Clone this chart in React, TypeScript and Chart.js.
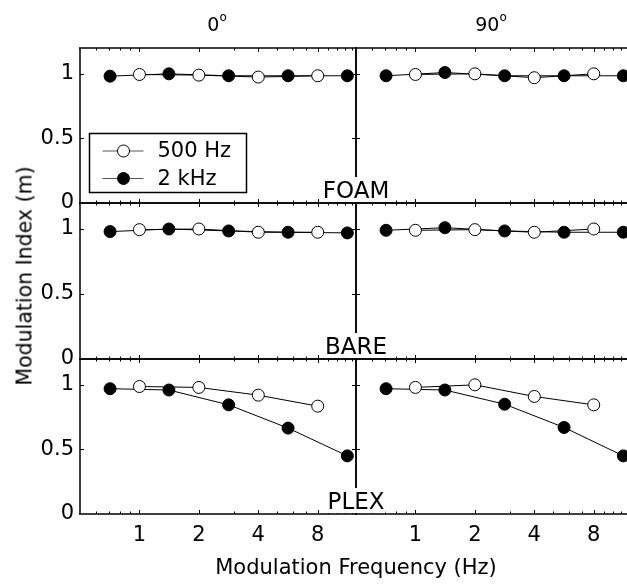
import React, { useEffect, useRef } from "react";
import { Chart, registerables } from "chart.js";

Chart.register(...registerables);

// ---- data ----
const freq500 = [1, 2, 4, 8];
const freq2k = [0.71, 1.41, 2.83, 5.66, 11.3];

const foam0_500 = [0.995, 0.99, 0.975, 0.985];
const foam0_2k = [0.982, 1.0, 0.985, 0.985, 0.985];
const foam90_500 = [0.995, 1.0, 0.97, 1.0];
const foam90_2k = [0.985, 1.01, 0.985, 0.985, 0.985];

const bare0_500 = [0.995, 1.0, 0.975, 0.975];
const bare0_2k = [0.98, 1.0, 0.985, 0.975, 0.97];
const bare90_500 = [0.99, 0.995, 0.975, 1.0];
const bare90_2k = [0.99, 1.01, 0.985, 0.975, 0.975];

const plex0_500 = [0.987, 0.98, 0.92, 0.835];
const plex0_2k = [0.97, 0.96, 0.845, 0.665, 0.45];
const plex90_500 = [0.98, 1.0, 0.91, 0.845];
const plex90_2k = [0.97, 0.96, 0.85, 0.67, 0.45];

const yTickValues = [0, 0.5, 1];
const xTickValues = [1, 2, 4, 8];
const xMinorValues = [0.6, 0.7, 0.8, 0.9, 3, 5, 6, 7, 9, 10, 11, 12];
const colTitles = ["0", "90"];
const rowLabels = ["FOAM", "BARE", "PLEX"];
const seriesLabels = ["500 Hz", "2 kHz"];
const xTitle = "Modulation Frequency (Hz)";
const yTitle = "Modulation Index (m)";

const panelData = [
  [[foam0_500, foam0_2k], [foam90_500, foam90_2k]],
  [[bare0_500, bare0_2k], [bare90_500, bare90_2k]],
  [[plex0_500, plex0_2k], [plex90_500, plex90_2k]],
];

// ---- layout ----
const W = 640;
const H = 587;
const colEdges = [80, 356, 632];
const rowEdges = [48, 203, 359, 514];
const titleCenters = [217, 491];
const FONT = "'DejaVu Sans', 'Liberation Sans', Arial, sans-serif";

function framePlugin(isLegendPanel: boolean) {
  return {
    id: "frame",
    beforeDatasetsDraw(chart: any) {
      const { ctx, chartArea, scales } = chart;
      const { left, right, top, bottom } = chartArea;
      const x = scales.x;
      const y = scales.y;
      ctx.save();
      ctx.strokeStyle = "#000";
      ctx.lineWidth = 1.5;
      ctx.beginPath();
      ctx.moveTo(left - 1, top);
      ctx.lineTo(right + 1, top);
      ctx.moveTo(left - 1, bottom);
      ctx.lineTo(right + 1, bottom);
      ctx.moveTo(left, top);
      ctx.lineTo(left, bottom);
      ctx.moveTo(right, top);
      ctx.lineTo(right, bottom);
      ctx.stroke();
      ctx.lineWidth = 1;
      ctx.beginPath();
      xTickValues.forEach((v) => {
        const px = Math.round(x.getPixelForValue(v)) + 0.5;
        ctx.moveTo(px, bottom);
        ctx.lineTo(px, bottom - 4);
        ctx.moveTo(px, top);
        ctx.lineTo(px, top + 4);
      });
      xMinorValues.forEach((v) => {
        const px = Math.round(x.getPixelForValue(v)) + 0.5;
        ctx.moveTo(px, bottom);
        ctx.lineTo(px, bottom - 2.5);
        ctx.moveTo(px, top);
        ctx.lineTo(px, top + 2.5);
      });
      yTickValues.forEach((v) => {
        if (v === 0) return;
        const py = Math.round(y.getPixelForValue(v)) + 0.5;
        ctx.moveTo(left, py);
        ctx.lineTo(left + 4, py);
        ctx.moveTo(right, py);
        ctx.lineTo(right - 4, py);
      });
      ctx.stroke();
      ctx.restore();
    },
    afterDraw(chart: any) {
      if (!isLegendPanel) return;
      const { ctx, chartArea } = chart;
      const bx = chartArea.left + 9.5;
      const by = chartArea.top + 85.5;
      const bw = 157;
      const bh = 59;
      ctx.save();
      ctx.fillStyle = "#fff";
      ctx.fillRect(bx, by, bw, bh);
      ctx.strokeStyle = "#000";
      ctx.lineWidth = 1.5;
      ctx.strokeRect(bx, by, bw, bh);
      const fills = ["#fff", "#000"];
      seriesLabels.forEach((lab, i) => {
        const cy = by + 17.5 + i * 27.5;
        ctx.strokeStyle = "#555";
        ctx.lineWidth = 1;
        ctx.beginPath();
        ctx.moveTo(bx + 13, cy);
        ctx.lineTo(bx + 54, cy);
        ctx.stroke();
        ctx.beginPath();
        ctx.arc(bx + 34, cy, 6, 0, Math.PI * 2);
        ctx.fillStyle = fills[i];
        ctx.fill();
        ctx.strokeStyle = "#000";
        ctx.stroke();
        ctx.fillStyle = "#000";
        ctx.font = `21px ${FONT}`;
        ctx.textAlign = "left";
        ctx.textBaseline = "middle";
        ctx.fillText(lab, bx + 68, cy + 1);
      });
      ctx.restore();
    },
  };
}

function Panel({ row, col }: { row: number; col: number }) {
  const ref = useRef<HTMLCanvasElement | null>(null);
  useEffect(() => {
    if (!ref.current) return;
    const [d500, d2k] = panelData[row][col];
    const pts500 = freq500.map((x, i) => ({ x, y: d500[i] }));
    const pts2k = freq2k.map((x, i) => ({ x, y: d2k[i] }));
    const lineStyle = {
      borderColor: "#000",
      borderWidth: 1,
      pointRadius: 0,
      fill: false,
      tension: 0,
    };
    const ptStyle = {
      showLine: false,
      pointRadius: 6,
      pointBorderColor: "#000",
      pointBorderWidth: 1,
    };
    const tickFont = { family: FONT, size: 21 };
    const showX = row === 2;
    const showY = col === 0;
    const chart = new Chart(ref.current, {
      type: "line",
      data: {
        datasets: [
          { label: seriesLabels[0], data: pts500, ...ptStyle, pointBackgroundColor: "#fff", order: 0 },
          { label: seriesLabels[1], data: pts2k, ...ptStyle, pointBackgroundColor: "#000", order: 1 },
          { label: seriesLabels[0] + " line", data: pts500, ...lineStyle, order: 2 },
          { label: seriesLabels[1] + " line", data: pts2k, ...lineStyle, order: 3 },
        ] as any,
      },
      options: {
        responsive: false,
        animation: false,
        events: [],
        layout: {
          padding: {
            left: showY ? 0 : colEdges[1],
            right: W - colEdges[col + 1],
            top: rowEdges[row],
            bottom: showX ? 0 : H - rowEdges[row + 1],
          },
        },
        plugins: { legend: { display: false }, tooltip: { enabled: false } },
        scales: {
          x: {
            type: "logarithmic",
            min: 0.5,
            max: 12.5,
            display: showX,
            afterBuildTicks: (s: any) => {
              s.ticks = xTickValues.map((v) => ({ value: v }));
            },
            afterFit: (s: any) => {
              s.height = showX ? H - rowEdges[3] : 0;
            },
            grid: { display: false, drawTicks: false },
            border: { display: false },
            ticks: {
              font: tickFont,
              color: "#000",
              padding: 9,
              maxRotation: 0,
              autoSkip: false,
              callback: (v: any) => String(v),
            },
          },
          y: {
            type: "linear",
            min: 0,
            max: 1.2,
            display: showY,
            afterBuildTicks: (s: any) => {
              s.ticks = yTickValues.map((v) => ({ value: v }));
            },
            afterFit: (s: any) => {
              s.width = showY ? colEdges[0] : 0;
            },
            grid: { display: false, drawTicks: false },
            border: { display: false },
            ticks: {
              font: tickFont,
              color: "#000",
              padding: 6,
              callback: (v: any) => String(v),
            },
          },
        } as any,
      },
      plugins: [framePlugin(row === 0 && col === 0)],
    });
    return () => chart.destroy();
  }, [row, col]);
  return (
    <canvas
      ref={ref}
      width={W}
      height={H}
      style={{ position: "absolute", left: 0, top: 0, width: W, height: H }}
    />
  );
}

export default function App() {
  const panels = [];
  for (let r = 0; r < 3; r++) for (let c = 0; c < 2; c++) panels.push(<Panel key={`${r}-${c}`} row={r} col={c} />);
  const textBase: React.CSSProperties = {
    position: "absolute",
    fontFamily: FONT,
    color: "#000",
    whiteSpace: "nowrap",
  };
  return (
    <div
      style={{
        position: "absolute",
        left: 0,
        top: 0,
        width: 627,
        height: 587,
        overflow: "hidden",
        background: "#fff",
      }}
    >
      {panels}
      {colTitles.map((t, i) => (
        <div
          key={t}
          style={{
            ...textBase,
            left: titleCenters[i],
            top: 14.5,
            fontSize: 19,
            lineHeight: "19px",
            transform: "translateX(-50%)",
          }}
        >
          {t}
          <span style={{ fontSize: 12, position: "relative", top: -10 }}>o</span>
        </div>
      ))}
      {rowLabels.map((t, i) => (
        <div
          key={t}
          style={{
            ...textBase,
            left: colEdges[1],
            top: rowEdges[i + 1] - 26,
            fontSize: 23,
            lineHeight: "23px",
            paddingTop: 2,
            paddingLeft: 1,
            paddingRight: 1,
            background: "#fff",
            transform: "translateX(-50%)",
          }}
        >
          {t}
        </div>
      ))}
      <div
        style={{
          ...textBase,
          left: colEdges[1],
          top: 557,
          fontSize: 21,
          lineHeight: "21px",
          transform: "translateX(-50%)",
        }}
      >
        {xTitle}
      </div>
      <div
        style={{
          ...textBase,
          left: 25,
          top: 276,
          fontSize: 20.5,
          lineHeight: "21px",
          transform: "translate(-50%, -50%) rotate(-90deg)",
        }}
      >
        {yTitle}
      </div>
    </div>
  );
}
